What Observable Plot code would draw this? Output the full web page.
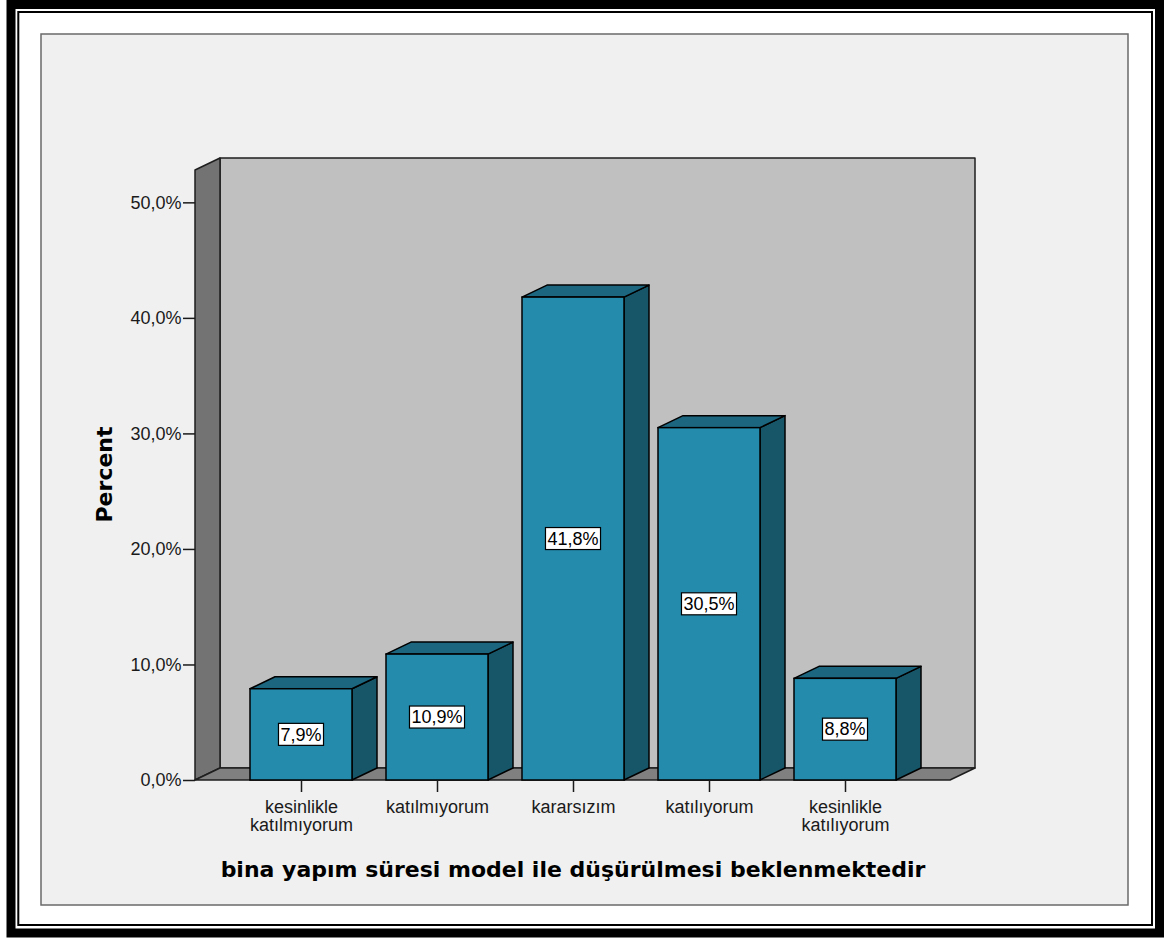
<!DOCTYPE html>
<html>
<head>
<meta charset="utf-8">
<script src="https://cdn.jsdelivr.net/npm/d3@7"></script>
<script src="https://cdn.jsdelivr.net/npm/@observablehq/plot@0.6"></script>
<style>
  html, body { margin: 0; padding: 0; background: #fff; }
  svg { display: block; }
</style>
</head>
<body>
<div id="chart"></div>
<script>
// Survey answers and their shares (%)
const categories = ["kesinlikle\nkatılmıyorum", "katılmıyorum", "kararsızım", "katılıyorum", "kesinlikle\nkatılıyorum"];
const percents = [7.9, 10.9, 41.8, 30.5, 8.8];
const yTicks = [0, 10, 20, 30, 40, 50];
const wallTop = 52.8; // value where the chart walls end
const xTitle = "bina yapım süresi model ile düşürülmesi beklenmektedir";
const yTitle = "Percent";

const rows = categories.map((category, i) => ({category, percent: percents[i]}));
const fmtPct = v => v.toFixed(1).replace(".", ",") + "%";

// extrusion of the 3D boxes, in pixels
const DX = 25, DY = -12;
const colors = {
  front: "#248bad", top: "#1c6680", side: "#175669",
  backWall: "#c0c0c0", sideWall: "#737373", floor: "#808080",
  panel: "#f0f0f0", edge: "#1e1e1e"
};
const labelFont = "18px 'Liberation Sans', Arial, sans-serif";

const NS = "http://www.w3.org/2000/svg";
function el(tag, attrs) {
  const e = document.createElementNS(NS, tag);
  for (const k in attrs) e.setAttribute(k, attrs[k]);
  return e;
}

// page border and the light chart panel
function pageFrame(index, scales, values, {width, height}) {
  const g = el("g", {});
  g.append(el("rect", {x: 0, y: 0, width, height, fill: "#fff"}));
  g.append(el("rect", {x: 11, y: 4.5, width: width - 15.5, height: height - 9.5, fill: "none", stroke: "#000", "stroke-width": 9}));
  g.append(el("rect", {x: 18.3, y: 12, width: width - 30.3, height: height - 25, fill: "none", stroke: "#000", "stroke-width": 2}));
  g.append(el("rect", {x: 41, y: 34, width: width - 77, height: height - 67, fill: colors.panel, stroke: "#6a6a6a", "stroke-width": 1.5}));
  return g;
}

// back wall, left wall and floor of the 3D plot box
function walls(index, {x, y}) {
  const [x0, x1] = x.range();
  const y0 = y(0), yt = y(wallTop);
  const g = el("g", {stroke: colors.edge, "stroke-width": 1.5, "stroke-linejoin": "round"});
  g.append(el("rect", {x: x0 + DX, y: yt + DY, width: x1 - x0, height: y0 - yt, fill: colors.backWall}));
  g.append(el("polygon", {points: `${x0},${y0} ${x0},${yt} ${x0 + DX},${yt + DY} ${x0 + DX},${y0 + DY}`, fill: colors.sideWall}));
  g.append(el("polygon", {points: `${x0},${y0} ${x1},${y0} ${x1 + DX},${y0 + DY} ${x0 + DX},${y0 + DY}`, fill: colors.floor}));
  return g;
}

// top and right faces of each bar
function barDepth(index, {x, y}) {
  const bw = x.bandwidth();
  const y0 = y(0);
  const g = el("g", {stroke: "#000", "stroke-width": 1.5, "stroke-linejoin": "round"});
  for (const r of rows) {
    const xl = x(r.category), xr = xl + bw, yt = y(r.percent);
    g.append(el("polygon", {points: `${xr},${yt} ${xr + DX},${yt + DY} ${xr + DX},${y0 + DY} ${xr},${y0}`, fill: colors.side}));
    g.append(el("polygon", {points: `${xl},${yt} ${xl + DX},${yt + DY} ${xr + DX},${yt + DY} ${xr},${yt}`, fill: colors.top}));
  }
  return g;
}

// boxed value labels in the middle of each bar
function valueLabels(index, {x, y}) {
  const ctx = document.createElement("canvas").getContext("2d");
  ctx.font = labelFont;
  const bw = x.bandwidth();
  const g = el("g", {});
  for (const r of rows) {
    const s = fmtPct(r.percent);
    const w = ctx.measureText(s).width + 4;
    const h = 22;
    const cx = x(r.category) + bw / 2, cy = y(r.percent / 2);
    g.append(el("rect", {x: cx - w / 2, y: cy - h / 2, width: w, height: h, fill: "#fff", stroke: "#000", "stroke-width": 1.2}));
    const t = el("text", {x: cx, y: cy, "text-anchor": "middle", dy: "0.35em", fill: "#000",
      style: `font: ${labelFont}`});
    t.textContent = s;
    g.append(t);
  }
  return g;
}

const chart = Plot.plot({
  width: 1164,
  height: 938,
  marginLeft: 195,
  marginRight: 214,
  marginTop: 170,
  marginBottom: 158,
  style: {
    background: "#fff",
    color: "#1a1a1a",
    fontFamily: "'Liberation Sans', Arial, sans-serif",
    fontSize: "18px"
  },
  x: {type: "band", domain: categories, range: [195, 950], paddingInner: 0.25, paddingOuter: 0.4, align: 0.5, label: null},
  y: {type: "linear", domain: [0, wallTop], range: [780, 170], label: null},
  marks: [
    pageFrame,
    walls,
    barDepth,
    Plot.barY(rows, {x: "category", y: "percent", fill: colors.front, stroke: "#000", strokeWidth: 1.5}),
    valueLabels,
    Plot.axisY(yTicks, {tickSize: 12, tickPadding: 2, tickFormat: fmtPct, label: null, strokeWidth: 1.5}),
    Plot.axisX({tickSize: 12, tickPadding: 8, label: null, lineHeight: 1, strokeWidth: 1.5}),
    Plot.text([xTitle], {text: d => d, frameAnchor: "bottom", lineAnchor: "bottom", dy: 96,
      fontFamily: "DejaVu Sans", fontWeight: "bold", fontSize: 22, fill: "#000"}),
    Plot.text([yTitle], {text: d => d, frameAnchor: "left", textAnchor: "middle", rotate: -90, dx: -91, dy: -1,
      fontFamily: "DejaVu Sans", fontWeight: "bold", fontSize: 22, fill: "#000"})
  ]
});

document.getElementById("chart").append(chart);
</script>
</body>
</html>
